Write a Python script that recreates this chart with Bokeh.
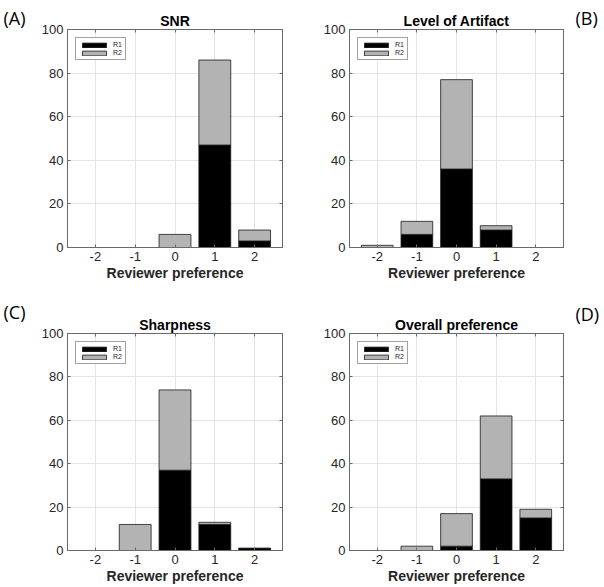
from bokeh.plotting import figure
from bokeh.models import (ColumnDataSource, FixedTicker, LinearAxis,
                          Legend, LegendItem, Range1d, Spacer)
from bokeh.layouts import row, column
from bokeh.embed import file_html
from bokeh.resources import INLINE

# ---------------- data ----------------
prefs = [-2, -1, 0, 1, 2]
pref_labels = ["-2", "-1", "0", "1", "2"]
y_ticks = [0, 20, 40, 60, 80, 100]
series_names = ["R1", "R2"]

snr_r1 = [0, 0, 0, 47, 3]
snr_r2 = [0, 0, 6, 39, 5]
artifact_r1 = [0, 6, 36, 8, 0]
artifact_r2 = [1, 6, 41, 2, 0]
sharp_r1 = [0, 0, 37, 12, 1]
sharp_r2 = [0, 12, 37, 1, 0]
overall_r1 = [0, 0, 2, 33, 15]
overall_r2 = [0, 2, 15, 29, 4]

titles = ["SNR", "Level of Artifact", "Sharpness", "Overall preference"]
tags = ["(A)", "(B)", "(C)", "(D)"]
x_label = "Reviewer preference"

# ---------------- style ----------------
FONT = "Liberation Sans"
TAG_FONT = "Open Sans"
TXT = "#262626"
BOX = "#6a6a6a"
GRID = "#e4e4e4"
C_R1 = "#000000"
C_R2 = "#b3b3b3"


def make_panel(title, r1, r2, width, height, bl, br, bt, bb, title_standoff):
    p = figure(width=width, height=height, output_backend="svg",
               toolbar_location=None,
               x_range=Range1d(-2.7, 2.7), y_range=Range1d(0, 100),
               min_border_left=bl, min_border_right=br,
               min_border_top=bt, min_border_bottom=bb)
    p.outline_line_color = BOX
    p.outline_line_width = 1
    p.background_fill_color = "white"
    p.border_fill_color = "white"

    p.title.text = title
    p.title.align = "center"
    p.title.text_font = FONT
    p.title.text_font_style = "bold"
    p.title.text_font_size = "14px"
    p.title.text_color = "black"
    p.title.standoff = title_standoff

    src = ColumnDataSource(dict(x=prefs, R1=r1, R2=r2))
    rs = p.vbar_stack(series_names, x="x", width=0.8, source=src,
                      fill_color=[C_R1, C_R2], line_color="#1a1a1a",
                      line_width=0.8)

    for ax in (p.xaxis[0], p.yaxis[0]):
        ax.axis_line_color = BOX
        ax.major_tick_line_color = BOX
        ax.major_tick_in = 3
        ax.major_tick_out = 0
        ax.minor_tick_line_color = None
        ax.major_label_text_font = FONT
        ax.major_label_text_font_size = "13px"
        ax.major_label_text_color = TXT
    p.xaxis[0].ticker = FixedTicker(ticks=prefs)
    p.xaxis[0].major_label_overrides = {t: s for t, s in zip(prefs, pref_labels)}
    p.yaxis[0].ticker = FixedTicker(ticks=y_ticks)
    p.xaxis[0].major_label_standoff = 4
    p.yaxis[0].major_label_standoff = 4
    p.xaxis[0].axis_label = x_label
    p.xaxis[0].axis_label_text_font = FONT
    p.xaxis[0].axis_label_text_font_style = "bold"
    p.xaxis[0].axis_label_text_font_size = "14px"
    p.xaxis[0].axis_label_text_color = TXT
    p.xaxis[0].axis_label_standoff = 1

    top = LinearAxis(ticker=FixedTicker(ticks=prefs), major_tick_in=3,
                     major_tick_out=0, minor_tick_line_color=None,
                     axis_line_color=BOX, major_tick_line_color=BOX,
                     major_label_text_color=None,
                     major_label_text_font_size="1px", major_label_standoff=0)
    right = LinearAxis(ticker=FixedTicker(ticks=y_ticks), major_tick_in=3,
                       major_tick_out=0, minor_tick_line_color=None,
                       axis_line_color=BOX, major_tick_line_color=BOX,
                       major_label_text_color=None,
                       major_label_text_font_size="1px", major_label_standoff=0)
    p.add_layout(top, "above")
    p.add_layout(right, "right")

    p.xgrid.ticker = FixedTicker(ticks=prefs)
    p.ygrid.ticker = FixedTicker(ticks=y_ticks)
    p.xgrid.grid_line_color = GRID
    p.ygrid.grid_line_color = GRID

    leg = Legend(items=[LegendItem(label=n, renderers=[r]) for n, r in zip(series_names, rs)],
                 location="top_left", margin=8, padding=3, spacing=1,
                 glyph_width=30, glyph_height=6, label_standoff=4,
                 label_width=8, label_height=6,
                 label_text_font=FONT, label_text_font_size="7px",
                 label_text_color=TXT,
                 border_line_color="#444444", border_line_width=1,
                 background_fill_color="white", background_fill_alpha=1)
    p.add_layout(leg)
    return p


def make_tag(tag, width, height, pad_top, offset):
    t = figure(width=width, height=height - pad_top, output_backend="svg",
               toolbar_location=None, x_axis_type=None, y_axis_type=None,
               x_range=Range1d(0, 1), y_range=Range1d(0, 1), min_border=0)
    t.outline_line_color = None
    t.grid.visible = False
    t.title.text = tag
    t.title.align = "left"
    t.title.offset = offset
    t.title.standoff = 0
    t.title.text_font = TAG_FONT
    t.title.text_font_style = "normal"
    t.title.text_font_size = "18px"
    t.title.text_color = "black"
    if pad_top > 0:
        return column(Spacer(width=width, height=pad_top), t, spacing=0)
    return t


pa = make_panel(titles[0], snr_r1, snr_r2, 272, 290, 37, 20, 29, 43, 1)
pb = make_panel(titles[1], artifact_r1, artifact_r2, 272, 290, 47, 11, 29, 43, 1)
pc = make_panel(titles[2], sharp_r1, sharp_r2, 272, 297, 37, 20, 43, 37, 1)
pd = make_panel(titles[3], overall_r1, overall_r2, 272, 297, 47, 11, 43, 37, 1)

ta = make_tag(tags[0], 30, 290, 0, 3)
tb = make_tag(tags[1], 30, 290, 0, 1)
tc = make_tag(tags[2], 30, 297, 7, 3)
td = make_tag(tags[3], 30, 297, 9, 1)

layout = column(row(ta, pa, pb, tb), row(tc, pc, pd, td))
open("out.html", "w").write(file_html(layout, INLINE))
